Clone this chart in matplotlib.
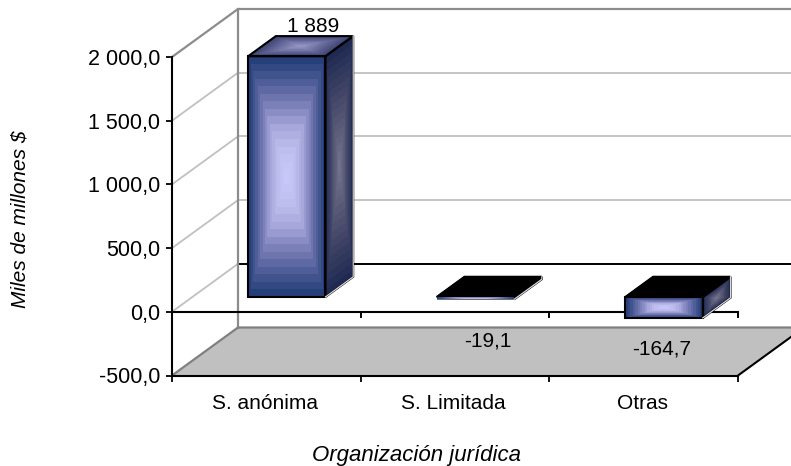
import numpy as np
import matplotlib
matplotlib.use('Agg')
import matplotlib.pyplot as plt
from matplotlib.colors import LinearSegmentedColormap
from matplotlib.patches import Polygon

plt.rcParams['font.family'] = ['Liberation Sans', 'DejaVu Sans']

categories = ['S. anónima', 'S. Limitada', 'Otras']
values = [1889, -19.1, -164.7]
value_labels = ['1 889', '-19,1', '-164,7']
yticks = [-500, 0, 500, 1000, 1500, 2000]
ytick_labels = ['-500,0', '0,0', '500,0', '1 000,0', '1 500,0', '2 000,0']

W, H = 791, 466
LEFT, RIGHT, TOP, BOTTOM = 172, 738, 57, 375.5
YMIN, YMAX = -500, 2000
FONT = 15

# oblique depth of the box, in data units
DEPTH_X = 66 / (RIGHT - LEFT) * 3
DEPTH_Y = 48 / (BOTTOM - TOP) * (YMAX - YMIN)
BAR_WIDTH = 0.41
BAR_D0, BAR_D1 = 0.31, 0.73
# label offsets from the top of each bar, in points
LABEL_OFFSETS = [(-1, 7), (-11, -46.5), (-22, -52)]

front_cmap = LinearSegmentedColormap.from_list(
    'front', ['#1e3a74', '#4a5a94', '#7a7eb8', '#a8a8dc', '#c0c0f0', '#c8c8fa'])
side_cmap = LinearSegmentedColormap.from_list('side', ['#1c2850', '#4a4c6c', '#74748c'])
top_cmap = LinearSegmentedColormap.from_list('top', ['#3a4272', '#6a6c9c', '#9a9ac8'])


def proj(x, y, d):
    return x + d * DEPTH_X, y + d * DEPTH_Y


def gradient_face(ax, p00, p10, p11, p01, cmap, z):
    # rectangular banded gradient, light in the middle and dark on the edges
    n = 33
    u, v = np.meshgrid(np.linspace(0, 1, n), np.linspace(0, 1, n))
    X = (1-u)*(1-v)*p00[0] + u*(1-v)*p10[0] + u*v*p11[0] + (1-u)*v*p01[0]
    Y = (1-u)*(1-v)*p00[1] + u*(1-v)*p10[1] + u*v*p11[1] + (1-u)*v*p01[1]
    uc = (u[:-1, :-1] + u[1:, 1:]) / 2
    vc = (v[:-1, :-1] + v[1:, 1:]) / 2
    t = 1 - np.maximum(np.abs(2*uc-1), np.abs(2*vc-1))
    ax.pcolormesh(X, Y, t, cmap=cmap, vmin=0, vmax=1, shading='flat', clip_on=False,
                  zorder=z, rasterized=True, antialiased=False, edgecolors='none')


def outline(ax, pts, z, lw=1.5):
    ax.add_patch(Polygon(pts, closed=True, fill=False, ec='black', lw=lw, zorder=z, clip_on=False))


fig = plt.figure(figsize=(W/100, H/100), dpi=100, facecolor='white')
ax = fig.add_axes([LEFT/W, 1-BOTTOM/H, (RIGHT-LEFT)/W, (BOTTOM-TOP)/H])
ax.set_xlim(0, 3)
ax.set_ylim(YMIN, YMAX)
ax.patch.set_visible(False)
for s in ax.spines.values():
    s.set_visible(False)

xfar = 3.4

# floor
floor = [proj(0, YMIN, 0), proj(3, YMIN, 0), proj(3, YMIN, 1), proj(0, YMIN, 1)]
ax.add_patch(Polygon(floor, closed=True, fc='#c0c0c0', ec='none', zorder=1, clip_on=False))

# gridlines on both walls
for v in yticks[2:-1]:
    p0, p1 = proj(0, v, 0), proj(0, v, 1)
    ax.plot([p0[0], p1[0]], [p0[1], p1[1]], color='#c0c0c0', lw=1.3, zorder=2, clip_on=False)
    ax.plot([p1[0], xfar], [p1[1], p1[1]], color='#c0c0c0', lw=1.3, zorder=2, clip_on=False)
p0, p1 = proj(0, 0, 0), proj(0, 0, 1)
ax.plot([p0[0], p1[0]], [p0[1], p1[1]], color='#c0c0c0', lw=1.3, zorder=2, clip_on=False)
ax.plot([p1[0], xfar], [p1[1], p1[1]], color='black', lw=1.4, zorder=2, clip_on=False)

# wall frame
p_a, p_b = proj(0, YMAX, 0), proj(0, YMAX, 1)
p_c = proj(0, YMIN, 1)
p_d = proj(0, YMIN, 0)
ax.plot([p_a[0], p_b[0], xfar], [p_a[1], p_b[1], p_b[1]], color='#8c8c8c', lw=1.6, zorder=3, clip_on=False)
ax.plot([p_b[0], p_c[0]], [p_b[1], p_c[1]], color='#8c8c8c', lw=1.6, zorder=3, clip_on=False)
ax.plot([p_d[0], p_c[0], xfar], [p_d[1], p_c[1], p_c[1]], color='#808080', lw=1.6, zorder=3, clip_on=False)

# front axes
ax.plot([0, 0], [YMIN, YMAX], color='black', lw=1.5, zorder=4, clip_on=False)
ax.plot([0, 3], [YMIN, YMIN], color='black', lw=1.5, zorder=4, clip_on=False)
ax.plot([0, 3], [0, 0], color='black', lw=1.5, zorder=4, clip_on=False)
ax.plot([3, proj(3, YMIN, 1)[0]], [YMIN, proj(3, YMIN, 1)[1]], color='black', lw=1.5, zorder=4, clip_on=False)
for i in range(4):
    ax.plot([i, i], [0, -40], color='black', lw=1.4, zorder=4, clip_on=False)

ax.set_yticks(yticks)
ax.set_yticklabels(ytick_labels)
ax.set_xticks(range(4))
ax.set_xticklabels([])
ax.tick_params(axis='y', length=4, width=1.3, labelsize=15.5, pad=4.5)
ax.tick_params(axis='x', length=4, width=1.3)
for i, c in enumerate(categories):
    ax.annotate(c, (i + 0.5, YMIN), xytext=(-1, -20), textcoords='offset points',
                ha='center', va='center', fontsize=FONT, annotation_clip=False)

# bars
for i, v in enumerate(values):
    x0 = i + 0.5 - BAR_WIDTH/2
    x1 = x0 + BAR_WIDTH
    lo, hi = min(v, 0), max(v, 0)
    front = [proj(x0, lo, BAR_D0), proj(x1, lo, BAR_D0), proj(x1, hi, BAR_D0), proj(x0, hi, BAR_D0)]
    side = [proj(x1, lo, BAR_D0), proj(x1, lo, BAR_D1), proj(x1, hi, BAR_D1), proj(x1, hi, BAR_D0)]
    top = [proj(x0, hi, BAR_D0), proj(x1, hi, BAR_D0), proj(x1, hi, BAR_D1), proj(x0, hi, BAR_D1)]
    gradient_face(ax, *side, side_cmap, 5)
    if v > 0:
        gradient_face(ax, *top, top_cmap, 5)
    else:
        ax.add_patch(Polygon(top, closed=True, fc='black', ec='black', zorder=5, clip_on=False))
    outline(ax, side, 6)
    outline(ax, top, 6)
    # a very low bar would vanish under a full outline
    gradient_face(ax, *front, front_cmap, 7 if abs(v) < 50 else 5)
    outline(ax, front, 6, lw=0.4 if abs(v) < 50 else 1.5)
    # pale highlight along the lower edge of the side face
    ax.plot([side[0][0], side[1][0], side[2][0]], [side[0][1], side[1][1], side[2][1]],
            color='#d8d8e0', lw=0.9, zorder=7, clip_on=False)
    ax.annotate(value_labels[i], proj((x0+x1)/2, hi, BAR_D1), xytext=LABEL_OFFSETS[i],
                textcoords='offset points', ha='center', va='center', fontsize=FONT,
                zorder=8, annotation_clip=False)

fig.text(20/W, 1-219/H, 'Miles de millones $', rotation=90, style='italic', fontsize=15,
         ha='center', va='center')
fig.text(417/W, 1-455/H, 'Organización jurídica', style='italic', fontsize=16,
         ha='center', va='center')

fig.savefig('out.png', dpi=100)
